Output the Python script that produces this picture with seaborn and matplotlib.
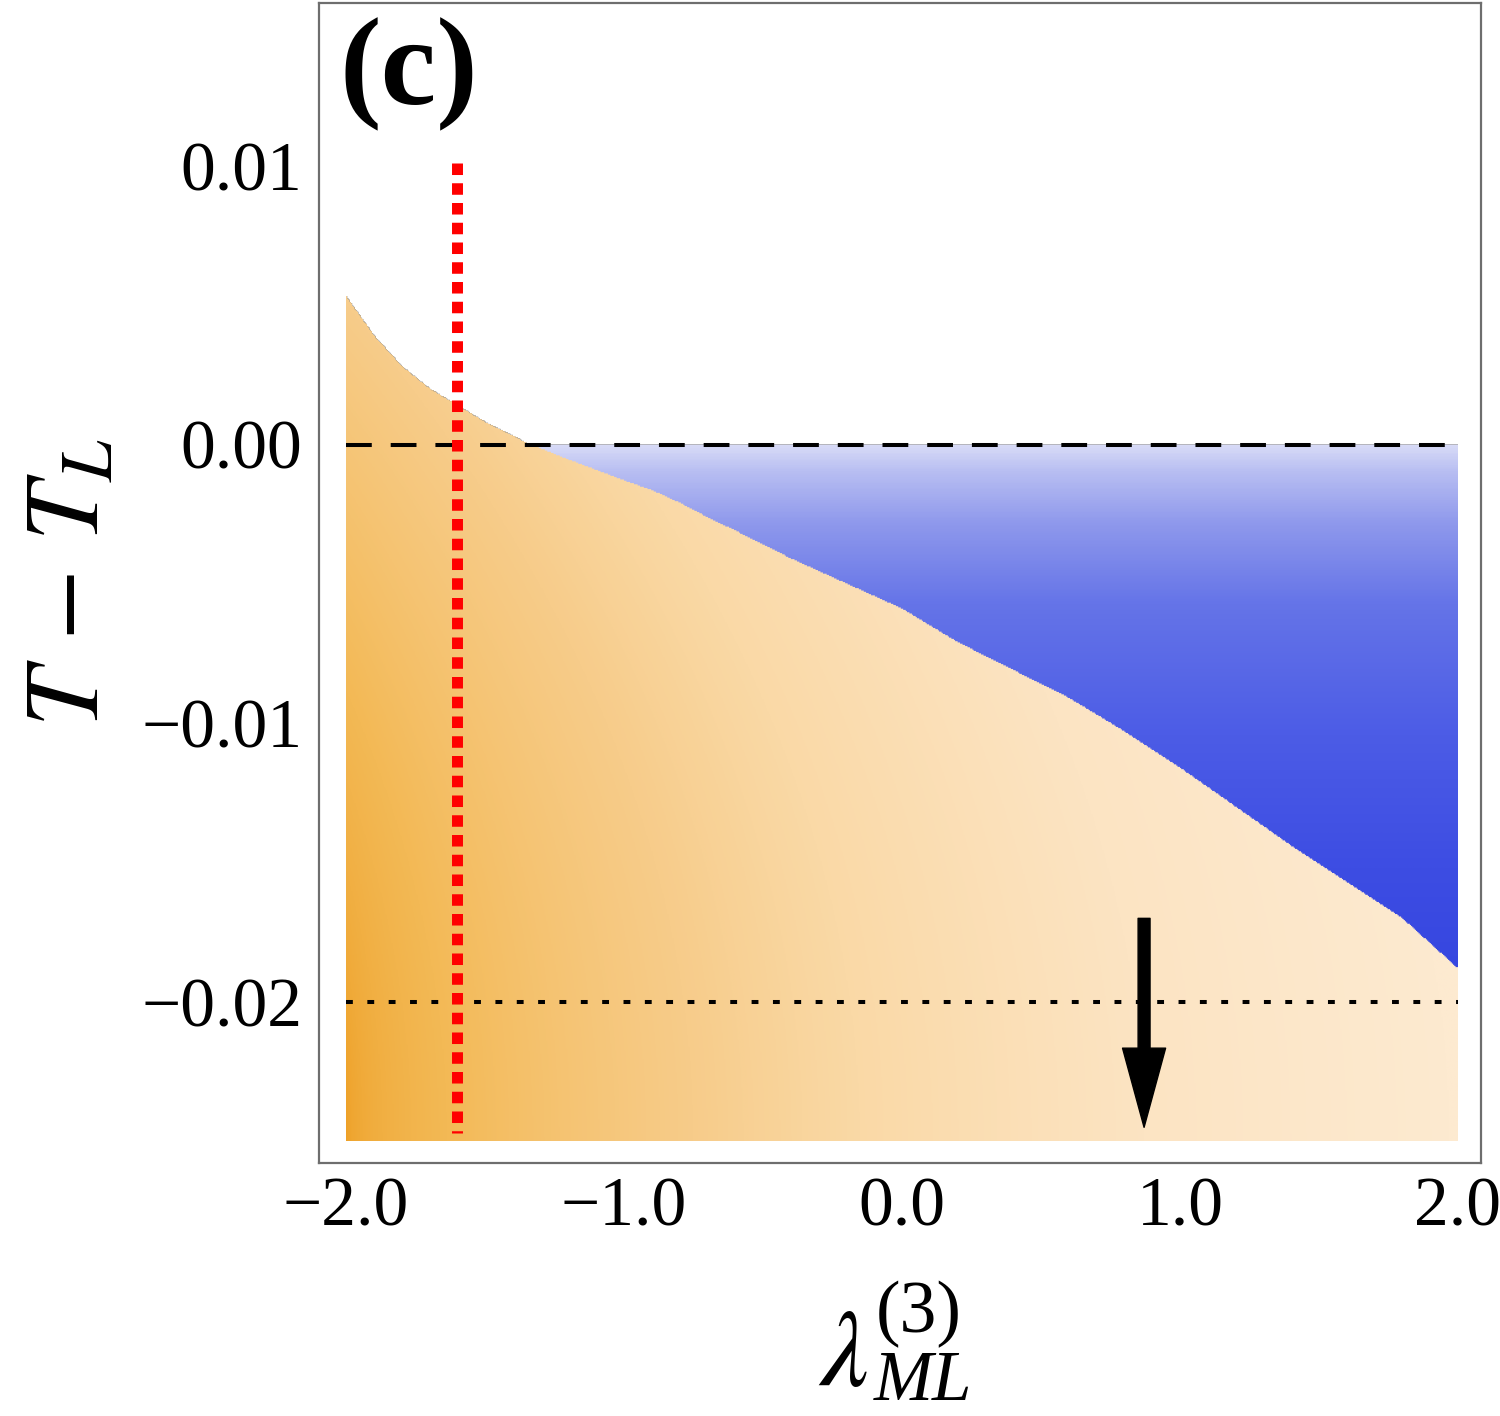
import numpy as np
import matplotlib
matplotlib.use("Agg")
import matplotlib.pyplot as plt
import seaborn as sns
from matplotlib.colors import LinearSegmentedColormap

# ---- data ----
boundary_x = [-2.0, -1.9, -1.8, -1.7, -1.6, -1.5, -1.4, -1.34, -1.2, -1.0, -0.9, -0.8,
              -0.7, -0.6, -0.4, -0.2, 0.0, 0.2, 0.4, 0.6, 0.8, 1.0, 1.2, 1.4, 1.6, 1.8, 2.0]
boundary_y = [0.0053, 0.0039, 0.0028, 0.0020, 0.0014, 0.0008, 0.0003, 0.0, -0.00055, -0.0013,
              -0.00165, -0.0021, -0.00262, -0.0031, -0.0041, -0.0050, -0.0059, -0.0071, -0.0081,
              -0.0091, -0.0103, -0.0116, -0.0130, -0.0144, -0.0157, -0.0170, -0.0188]
x_range = [-2.0, 2.0]
y_bottom = -0.025
ref_dashed_y = 0.0
ref_dotted_y = -0.02
red_line_x = -1.6
red_line_y = [0.0101, -0.0247]
arrow_x = 0.871
arrow_y = [-0.0170, -0.0245]
x_ticks = [-2.0, -1.0, 0.0, 1.0, 2.0]
x_tick_labels = ["\u22122.0", "\u22121.0", "0.0", "1.0", "2.0"]
y_ticks = [-0.02, -0.01, 0.0, 0.01]
y_tick_labels = ["\u22120.02", "\u22120.01", "0.00", "0.01"]
panel_label = "(c)"

sns.set_theme(style="white")
plt.rcParams["font.family"] = ["Liberation Serif", "DejaVu Serif"]
plt.rcParams["mathtext.fontset"] = "stix"
plt.rcParams["text.color"] = "black"
plt.rcParams["axes.labelcolor"] = "black"

W, H = 1500, 1416
fig = plt.figure(figsize=(W / 100, H / 100), dpi=100)
ax = fig.add_axes([319 / W, 1 - 1163 / H, 1162 / W, 1160 / H])


def fpx(x, y):
    return x / W, 1 - y / H


# ---- region image ----
nx, ny = 900, 700
y_top = max(boundary_y)
xs = np.linspace(x_range[0], x_range[1], nx)
ys = np.linspace(y_bottom, y_top, ny)
X, Y = np.meshgrid(xs, ys)
YB = np.interp(X, boundary_x, boundary_y)

orange_cmap = LinearSegmentedColormap.from_list(
    "orng", [(0, "#EEA026"), (0.3, "#F3B955"), (0.56, "#F7CC8A"),
             (0.68, "#FAD9A6"), (0.85, "#FCE4C3"), (1.0, "#FDEAD0")])
blue_cmap = LinearSegmentedColormap.from_list(
    "blu", [(0, "#D8DBF7"), (0.05, "#B8BEF2"), (0.15, "#8E98EC"), (0.3, "#6574E8"),
            (0.55, "#4C5CE6"), (0.8, "#3D4DE3"), (1.0, "#3646E0")])

u = 0.8 * (X + 2) / 4 + 0.25 * ((Y - y_bottom) / 0.03) ** 2
t = np.clip(u / 0.8, 0, 1) ** 0.5
s = np.clip(-Y / 0.019, 0, 1)

img = np.zeros((ny, nx, 4))
orange = Y <= YB
blue = (Y > YB) & (Y <= 0)
img[orange] = orange_cmap(t[orange])
img[blue] = blue_cmap(s[blue])

ax.imshow(img, extent=[x_range[0], x_range[1], y_bottom, y_top], origin="lower",
          aspect="auto", interpolation="antialiased", zorder=1)

# ---- reference lines ----
ax.plot(x_range, [ref_dashed_y, ref_dashed_y], color="black", lw=2.9,
        linestyle=(0, (6.4, 4.7)), zorder=3)
ax.plot(x_range, [ref_dotted_y, ref_dotted_y], color="black", lw=2.9,
        linestyle=(0, (1.7, 3.6)), zorder=3)
sns.lineplot(x=[red_line_x, red_line_x], y=red_line_y, ax=ax, color="#FF0000", lw=7.9,
             linestyle=(0, (1.05, 0.75)), estimator=None, sort=False, zorder=4)

ax.annotate("", xy=(arrow_x, arrow_y[1]), xytext=(arrow_x, arrow_y[0]),
            arrowprops=dict(width=8.6, headwidth=31, headlength=57, shrink=0,
                            facecolor="black", edgecolor="black"), zorder=5)

# ---- axes ----
ax.set_xlim(-2.097, 2.083)
ax.set_ylim(-0.02578, 0.01585)
ax.set_xticks(x_ticks)
ax.set_xticklabels(x_tick_labels)
ax.set_yticks(y_ticks)
ax.set_yticklabels(y_tick_labels)
ax.tick_params(axis="both", direction="in", length=12, width=1.5, color="black",
               labelsize=50, labelcolor="black")
ax.tick_params(axis="x", pad=10)
ax.tick_params(axis="y", pad=12)
for sp in ax.spines.values():
    sp.set_color("#6E6E6E")
    sp.set_linewidth(1.6)
    sp.set_visible(True)

ax.set_ylabel(r"$T\,-\,T_L$", fontsize=76, labelpad=14)

# x label: lambda with stacked super/subscripts
fig.text(*fpx(818, 1385), r"$\lambda$", fontsize=78, ha="left", va="baseline")
fig.text(*fpx(876, 1332), "(3)", fontsize=53, ha="left", va="baseline")
fig.text(*fpx(874, 1400), "ML", fontsize=51, fontstyle="italic", ha="left", va="baseline")

ax.text(0.018, 0.913, panel_label, transform=ax.transAxes, fontsize=90,
        fontweight="bold", ha="left", va="baseline")

fig.savefig("out.png", dpi=100)
